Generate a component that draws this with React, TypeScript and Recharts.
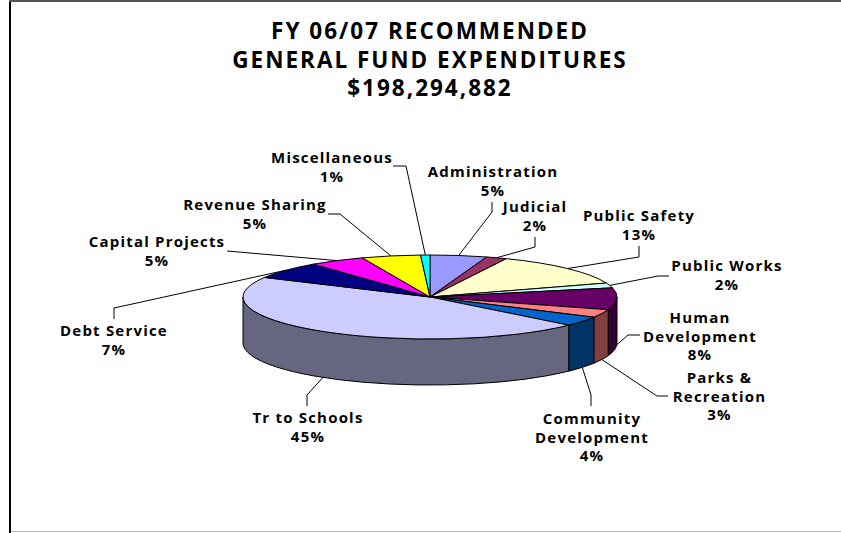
import React from "react";
import { PieChart, Pie, Cell } from "recharts";

const W = 841;
const H = 533;

const titleLines = ["FY 06/07 RECOMMENDED", "GENERAL FUND EXPENDITURES", "$198,294,882"];
const titleBaselines = [39, 68, 96];

const categories = [
  "Administration", "Judicial", "Public Safety", "Public Works", "Human Development", "Parks & Recreation",
  "Community Development", "Tr to Schools", "Debt Service", "Capital Projects", "Revenue Sharing", "Miscellaneous",
];
const categoryLines = [
  ["Administration"], ["Judicial"], ["Public Safety"], ["Public Works"], ["Human", "Development"], ["Parks &", "Recreation"],
  ["Community", "Development"], ["Tr to Schools"], ["Debt Service"], ["Capital Projects"], ["Revenue Sharing"], ["Miscellaneous"],
];
const shares = [4.9, 1.8, 12.9, 1.9, 8.4, 3.1, 3.7, 46.0, 6.6, 4.8, 5.1, 0.8];
const percentLabels = ["5%", "2%", "13%", "2%", "8%", "3%", "4%", "45%", "7%", "5%", "5%", "1%"];
const topColors = ["#9999FF", "#993366", "#FFFFCC", "#CCFFFF", "#660066", "#FF8080", "#0066CC", "#CCCCFF", "#000080", "#FF00FF", "#FFFF00", "#00FFFF"];
const wallColors = ["#4C4C80", "#4C1933", "#808066", "#668080", "#330033", "#804040", "#003366", "#666680", "#000040", "#800080", "#808000", "#008080"];

// label layout: text centre, first baseline, leader elbow, leader end
const labelCenters = [493, 535, 639, 727, 700, 719.5, 592, 308, 114, 157, 255, 332];
const labelBaselines = [177, 212, 221, 271, 323, 383, 424, 423, 336, 247, 210, 163];
const leaderElbows = [[492, 212], [535, 247], [639, 257], [658, 276], [628, 335], [657, 396], [591, 395], [307, 395], [114, 308], [227, 251], [340, 214], [406, 166]];
const leaderEnds = [[492, 202], [535, 237], [639, 246], [669, 276], [640, 335], [668, 396], [591, 406], [307, 406], [114, 319], [227, 251], [328, 214], [393, 166]];

const tableData = categories.map((name, i) => ({ name, value: shares[i] }));

const CX = 430;
const CY = 297;
const RX = 187;
const RY = 42;
const DEPTH = 46;
const LABEL_FONT = "'Open Sans', sans-serif";

const rad = (d: number) => (d * Math.PI) / 180;
const rimX = (cx: number, rx: number, t: number) => cx + rx * Math.sin(rad(t));
const rimY = (cy: number, rx: number, t: number) => cy - rx * (RY / RX) * Math.cos(rad(t));

function SliceShape(props: any) {
  const { cx, cy, outerRadius: rx, startAngle, endAngle, fill, index } = props;
  const t0 = 90 - startAngle;
  const t1 = 90 - endAngle;
  const ry = rx * (RY / RX);
  const top =
    `M${cx},${cy} L${rimX(cx, rx, t0)},${rimY(cy, rx, t0)} ` +
    `A${rx},${ry} 0 ${t1 - t0 > 180 ? 1 : 0} 1 ${rimX(cx, rx, t1)},${rimY(cy, rx, t1)} Z`;
  const a = Math.max(t0, 90);
  const b = Math.min(t1, 270);
  let wall = null;
  if (b > a) {
    const x0 = rimX(cx, rx, a), y0 = rimY(cy, rx, a), x1 = rimX(cx, rx, b), y1 = rimY(cy, rx, b);
    const large = b - a > 180 ? 1 : 0;
    const d =
      `M${x0},${y0} A${rx},${ry} 0 ${large} 1 ${x1},${y1} L${x1},${y1 + DEPTH} ` +
      `A${rx},${ry} 0 ${large} 0 ${x0},${y0 + DEPTH} Z`;
    wall = <path d={d} fill={wallColors[index ?? props.payload?.index ?? 0]} stroke="#000" strokeWidth={1} strokeLinejoin="round" />;
  }
  return (
    <g>
      {wall}
      <path d={top} fill={fill} stroke="#000" strokeWidth={1} strokeLinejoin="round" />
    </g>
  );
}

function SliceLabel(props: any) {
  const { cx, cy, outerRadius: rx, midAngle, index } = props;
  const t = ((90 - midAngle) % 360 + 360) % 360;
  const sx = rimX(cx, rx, t);
  const sy = rimY(cy, rx, t) + (t > 90 && t < 270 ? DEPTH : 0);
  const lines = [...categoryLines[index], percentLabels[index]];
  const elbow = leaderElbows[index];
  const end = leaderEnds[index];
  return (
    <g>
      <polyline
        points={`${sx},${sy} ${elbow[0]},${elbow[1]} ${end[0]},${end[1]}`}
        fill="none"
        stroke="#000"
        strokeWidth={1}
      />
      {lines.map((line, i) => (
        <text
          key={i}
          x={labelCenters[index]}
          y={labelBaselines[index] + i * 18.5}
          textAnchor="middle"
          fontFamily={LABEL_FONT}
          fontWeight={700}
          fontSize={15}
          letterSpacing={1.2}
          fill="#000"
        >
          {line}
        </text>
      ))}
    </g>
  );
}

export default function App() {
  return (
    <div style={{ position: "absolute", left: 0, top: 0, width: W, height: H, overflow: "hidden", background: "#fff" }}>
      <div style={{ position: "absolute", left: 9, top: 0, width: 2, height: H, background: "#000" }} />
      <div style={{ position: "absolute", left: 9, top: 0, width: W - 9, height: 2, background: "#555" }} />
      <div style={{ position: "absolute", left: 11, top: H - 2, width: W - 11, height: 1, background: "#bbb" }} />
      <PieChart width={W} height={H} margin={{ top: 0, right: 0, bottom: 0, left: 0 }} style={{ position: "absolute", left: 0, top: 0 }}>
        {titleLines.map((line, i) => (
          <text
            key={line}
            x={430}
            y={titleBaselines[i]}
            textAnchor="middle"
            fontFamily="'Open Sans', sans-serif"
            fontWeight={700}
            fontSize={22.5}
            letterSpacing={2}
            fill="#000"
          >
            {line}
          </text>
        ))}
        <Pie
          data={tableData}
          dataKey="value"
          nameKey="name"
          cx={CX}
          cy={CY}
          innerRadius={0}
          outerRadius={RX}
          startAngle={90}
          endAngle={-270}
          paddingAngle={0}
          isAnimationActive={false}
          shape={SliceShape}
          label={SliceLabel}
          labelLine={false}
        >
          {tableData.map((d, i) => (
            <Cell key={d.name} fill={topColors[i]} />
          ))}
        </Pie>
      </PieChart>
    </div>
  );
}
